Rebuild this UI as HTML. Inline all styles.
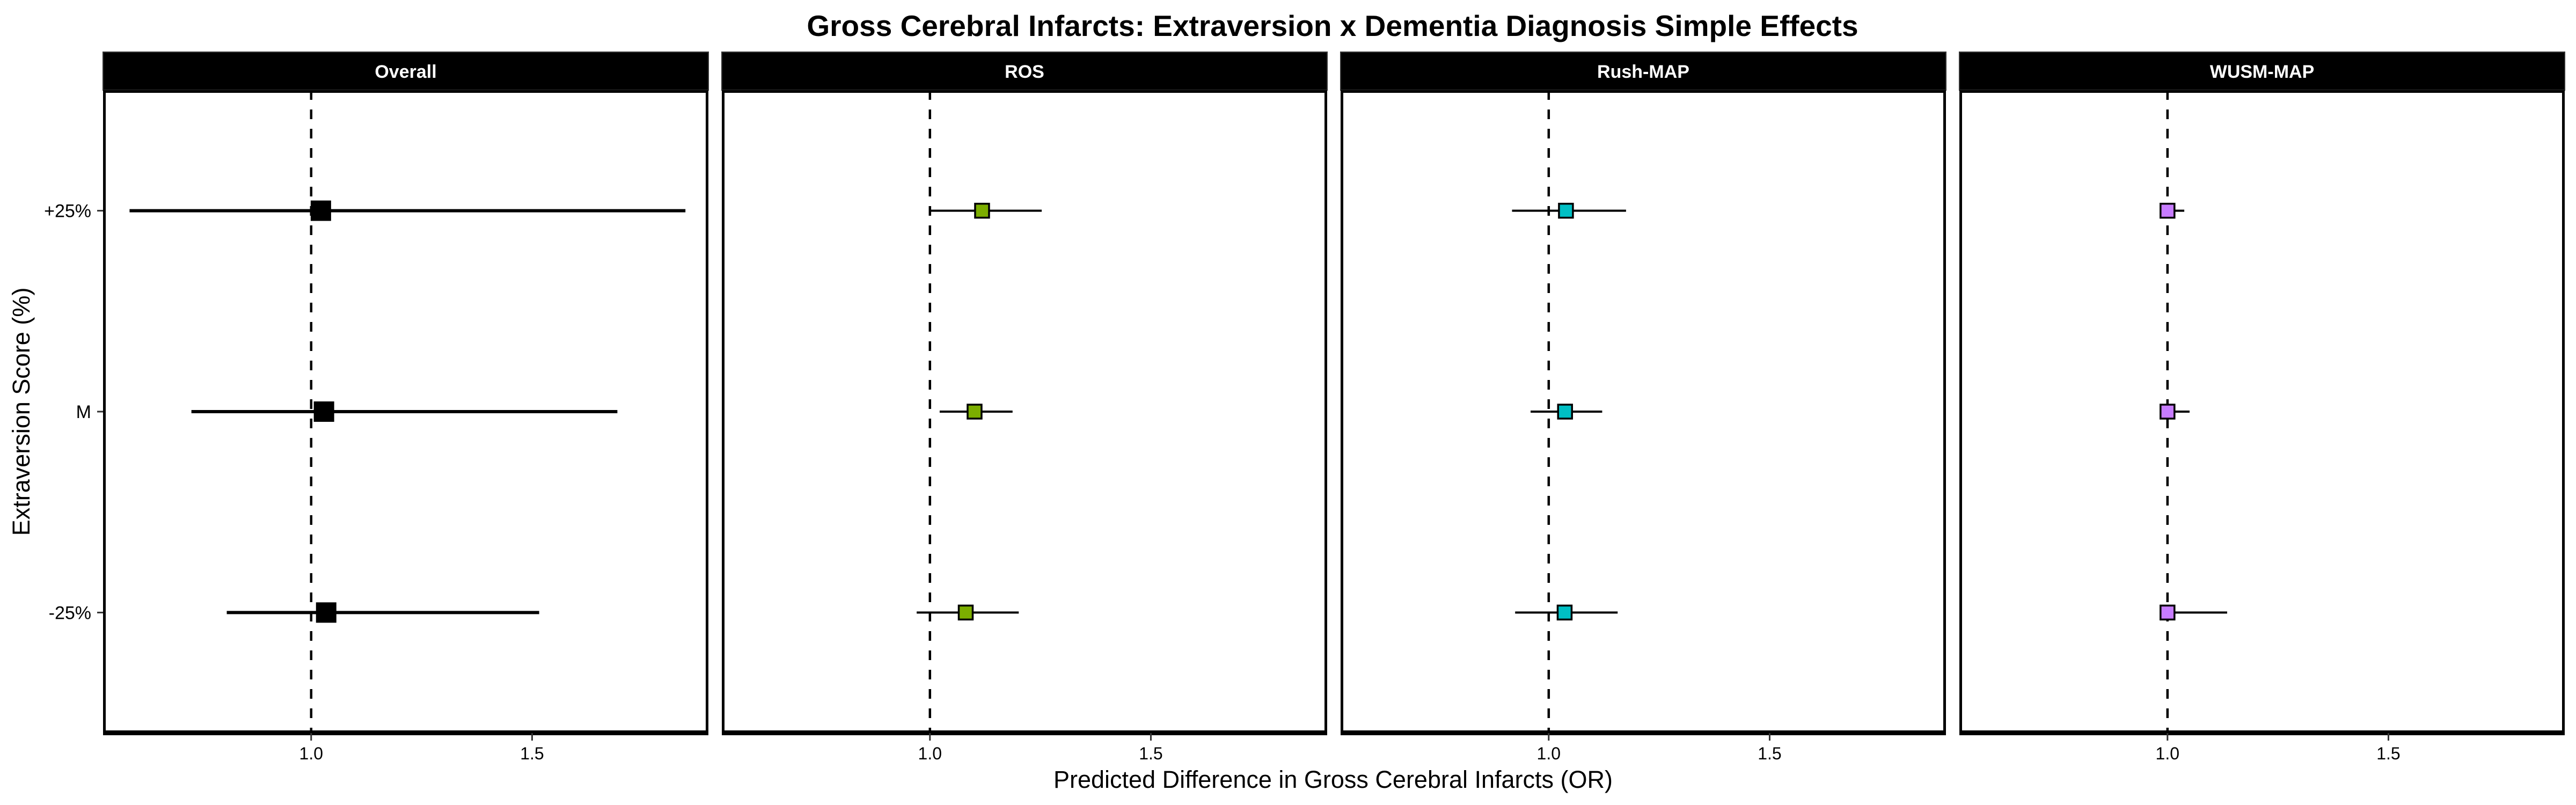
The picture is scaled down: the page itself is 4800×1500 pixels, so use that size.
<!DOCTYPE html>
<html><head><meta charset="utf-8"><style>
html,body{margin:0;padding:0;background:#fff;}
svg{display:block;font-family:"Liberation Sans",Arial,sans-serif;}
</style></head><body>
<svg id="chart" width="4800" height="1500" viewBox="0 0 4800 1500" xmlns="http://www.w3.org/2000/svg">
<rect width="4800" height="1500" fill="#fff"/>
<text x="2483" y="67" font-size="55" font-weight="bold" text-anchor="middle">Gross Cerebral Infarcts: Extraversion x Dementia Diagnosis Simple Effects</text>
<text x="2484" y="1468" font-size="45" text-anchor="middle">Predicted Difference in Gross Cerebral Infarcts (OR)</text>
<text transform="translate(55,767) rotate(-90)" font-size="45" text-anchor="middle">Extraversion Score (%)</text>
<g id="plots"></g>
</svg>
<script>
const panels = ["Overall", "ROS", "Rush-MAP", "WUSM-MAP"];
const levels = ["+25%", "M", "-25%"];
const xTicks = [1.0, 1.5];
const xTickLabels = ["1.0", "1.5"];
const estOverall = [1.022, 1.029, 1.034];
const loOverall = [0.589, 0.729, 0.809];
const hiOverall = [1.847, 1.693, 1.516];
const estROS = [1.118, 1.101, 1.081];
const loROS = [1.000, 1.022, 0.970];
const hiROS = [1.253, 1.187, 1.201];
const estRush = [1.039, 1.037, 1.036];
const loRush = [0.917, 0.959, 0.924];
const hiRush = [1.175, 1.121, 1.156];
const estWUSM = [1.000, 1.000, 1.000];
const loWUSM = [0.990, 0.993, 0.985];
const hiWUSM = [1.038, 1.050, 1.135];
const fills = ["#000000", "#7CAE00", "#00BFC4", "#C77CFF"];

const NS = "http://www.w3.org/2000/svg";
const g = document.getElementById("plots");
const panelLeft = [192, 1345, 2498, 3651];
const panelW = 1128, plotTop = 168, plotBottom = 1366;
const xMin = 0.529, xMax = 1.899;
function xScale(p, v) { return panelLeft[p] + (v - xMin) / (xMax - xMin) * panelW; }
function yScale(i) { const u = (plotBottom - plotTop) / (levels.length + 0.2); return plotTop + (i + 0.6) * u; }
function mk(tag, attrs) { const e = document.createElementNS(NS, tag); for (const k in attrs) e.setAttribute(k, attrs[k]); g.appendChild(e); return e; }

const est = [estOverall, estROS, estRush, estWUSM];
const lo = [loOverall, loROS, loRush, loWUSM];
const hi = [hiOverall, hiROS, hiRush, hiWUSM];

panels.forEach((name, p) => {
  const L = panelLeft[p], R = L + panelW;
  const strip = mk("rect", {x: L, y: 97, width: panelW, height: 71, fill: "#000", stroke: "#333", "stroke-width": 2});
  
  
  const st = mk("text", {x: (L + R) / 2, y: 145, "font-size": 34, "font-weight": "bold", fill: "#fff", "text-anchor": "middle"});
  st.textContent = name;
  
  
  const ref = mk("line", {x1: xScale(p, 1), x2: xScale(p, 1), y1: plotTop, y2: plotBottom, stroke: "#000", "stroke-width": 4.5, "stroke-dasharray": "18 18"});
  
  
  levels.forEach((lv, i) => {
    const y = yScale(i);
    const eb = mk("line", {x1: xScale(p, lo[p][i]), x2: xScale(p, hi[p][i]), y1: y, y2: y, stroke: "#000", "stroke-width": p === 0 ? 6 : 4});
    
    
    const s = p === 0 ? 38 : 26;
    const pt = mk("rect", {x: xScale(p, est[p][i]) - s / 2, y: y - s / 2, width: s, height: s, fill: fills[p], stroke: "#000", "stroke-width": p === 0 ? 0 : 3.5});
    
    
  });
  const fr = mk("rect", {x: L + 2.5, y: plotTop + 2.5, width: panelW - 5, height: plotBottom - plotTop - 5, fill: "none", stroke: "#000", "stroke-width": 5});
  
  
  const ax = mk("line", {x1: L, x2: R, y1: plotBottom, y2: plotBottom, stroke: "#000", "stroke-width": 8});
  
  
  xTicks.forEach((t, k) => {
    const x = xScale(p, t);
    const tk = mk("line", {x1: x, x2: x, y1: plotBottom, y2: plotBottom + 14, stroke: "#333", "stroke-width": 3});
    
    
    const tl = mk("text", {x: x, y: 1415, "font-size": 32, "text-anchor": "middle", fill: "#000"});
    tl.textContent = xTickLabels[k];
    
    
  });
});
levels.forEach((lv, i) => {
  const y = yScale(i);
  const tk = mk("line", {x1: 181, x2: 192, y1: y, y2: y, stroke: "#333", "stroke-width": 3});
  
  
  const tl = mk("text", {x: 170, y: y + 12, "font-size": 34, "text-anchor": "end", fill: "#000"});
  tl.textContent = lv;
  
  
});
</script>
</body></html>
